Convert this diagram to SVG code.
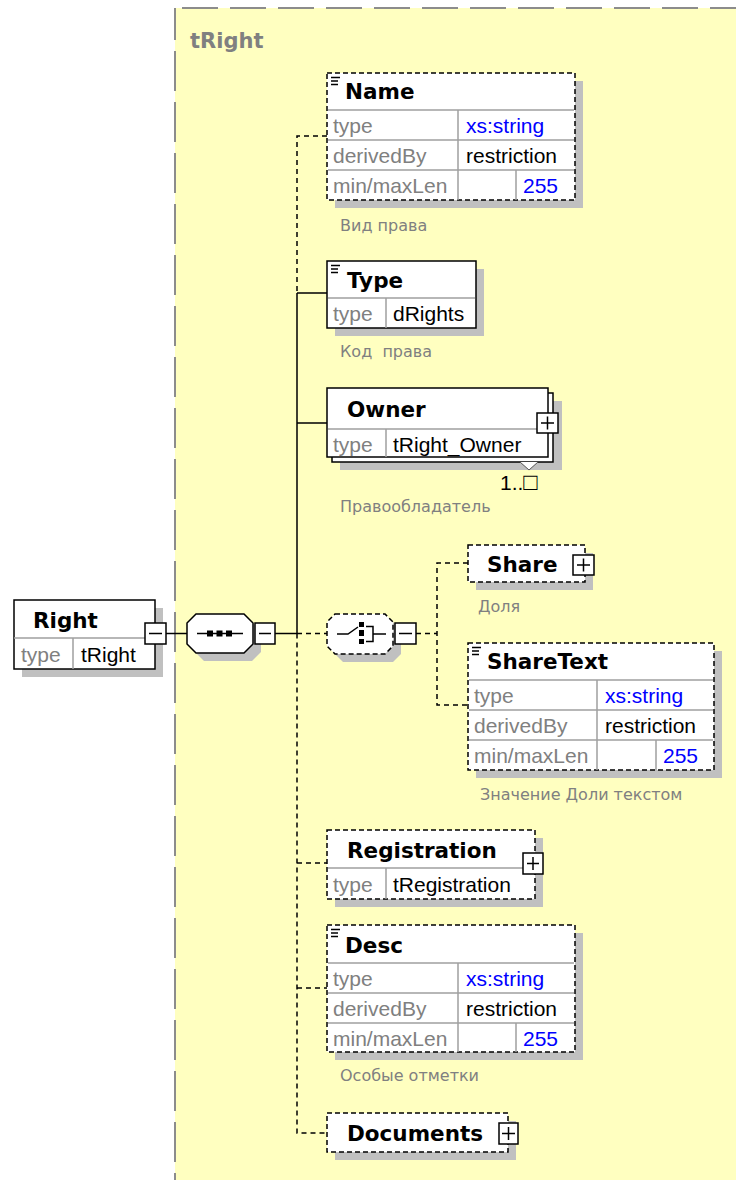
<svg xmlns="http://www.w3.org/2000/svg" width="736" height="1180" viewBox="0 0 736 1180">
<defs>
<style>
.bg{fill:#FFFFC0}
.border{stroke:#8c8c8c;stroke-width:2;fill:none}
.box{fill:#fff;stroke:#000;stroke-width:1.5}
.dash{stroke-dasharray:5 3}
.shadow{fill:#c0c0c0}
.grid{stroke:#a0a0a0;stroke-width:1.5;fill:none}
.title{font-family:"DejaVu Sans",Verdana,sans-serif;font-weight:bold;font-size:21.5px;fill:#000}
.zt{font-family:"DejaVu Sans",Verdana,sans-serif;font-weight:bold;font-size:21px;fill:#808080}
.lbl{font-family:"Liberation Sans",Arial,sans-serif;font-size:21px;fill:#808080}
.val{font-family:"Liberation Sans",Arial,sans-serif;font-size:21px;fill:#000}
.blue{fill:#0000ff}
.desc{font-family:"DejaVu Sans",Verdana,sans-serif;font-size:16px;fill:#808080}
.conn{stroke:#000;stroke-width:1.5;fill:none}
.cd{stroke-dasharray:5 4}
.btn{fill:#fff;stroke:#000;stroke-width:1.5}
.sym{stroke:#000;stroke-width:1.5;fill:none}
.icon{stroke:#000;stroke-width:1.5;fill:none}
</style>
</defs>

<g id="complexType-area">
<rect class="bg" x="175" y="8" width="561" height="1172"/>
<line class="border" x1="182" y1="8" x2="736" y2="8" stroke-dasharray="36 12"/>
<line class="border" x1="175" y1="8" x2="175" y2="1180" stroke-dasharray="40 11" stroke-dashoffset="8"/>
<text class="zt" x="190" y="48">tRight</text>
</g>

<g id="connectors">
<path class="conn" d="M166 633.5H187"/>
<path class="conn" d="M275 633.5H297"/>
<path class="conn" d="M297 293V633.5M297 293H327M297 423H327"/>
<path class="conn cd" d="M327 136H297V293"/>
<path class="conn cd" d="M297 633.5V1133H327M297 863H327M297 988H327M297 633.5H327"/>
<path class="conn cd" d="M416 633.5H437M468 563H437V705H468"/>
</g>

<g id="node-Right">
<rect class="shadow" x="22" y="608" width="141" height="69"/>
<rect class="box" x="14" y="600" width="141" height="69"/>
<path class="grid" d="M14 638H155M73 638V669"/>
<text class="title" x="33" y="628">Right</text>
<text class="lbl" x="21" y="662">type</text>
<text class="val" x="81" y="662">tRight</text>
<rect class="btn" x="145" y="623" width="21" height="21"/>
<path class="sym" d="M149 633.5H162"/>
</g>

<g id="node-sequence">
<polygon class="shadow" points="204,622 252,622 261,631 261,652 252,661 204,661 195,652 195,631"/>
<polygon class="box" points="196,614 244,614 253,623 253,644 244,653 196,653 187,644 187,623"/>
<path class="sym" d="M197 633.5H243"/>
<rect x="207" y="630.5" width="6" height="6" fill="#000"/>
<rect x="216.5" y="630.5" width="6" height="6" fill="#000"/>
<rect x="226" y="630.5" width="6" height="6" fill="#000"/>
<rect class="btn" x="255" y="623" width="20" height="21"/>
<path class="sym" d="M259 633.5H271"/>
</g>

<g id="node-Name">
<rect class="shadow" x="335" y="81" width="248" height="127"/>
<rect class="box dash" x="327" y="73" width="248" height="127"/>
<path class="grid" d="M328 110H574M328 140H574M328 170H574M458 110V200M516 170V200"/>
<path class="icon" d="M331 77.5H340M331 81H338M331 84.5H338"/>
<text class="title" x="345" y="99">Name</text>
<text class="lbl" x="333" y="133">type</text>
<text class="val blue" x="466" y="133">xs:string</text>
<text class="lbl" x="333" y="163">derivedBy</text>
<text class="val" x="466" y="163">restriction</text>
<text class="lbl" x="333" y="193">min/maxLen</text>
<text class="val blue" x="558" y="193" text-anchor="end">255</text>
<text class="desc" x="340" y="231">Вид права</text>
</g>

<g id="node-Type">
<rect class="shadow" x="335" y="269" width="149" height="67"/>
<rect class="box" x="327" y="261" width="149" height="67"/>
<path class="grid" d="M328 298H475M386 298V328"/>
<path class="icon" d="M331 265.5H340M331 269H338M331 272.5H338"/>
<text class="title" x="347" y="288">Type</text>
<text class="lbl" x="333" y="321">type</text>
<text class="val" x="393" y="321">dRights</text>
<text class="desc" x="340" y="357" xml:space="preserve">Код  права</text>
</g>

<g id="node-Owner">
<rect class="shadow" x="340" y="401" width="222" height="69"/>
<rect class="box" x="332" y="393" width="221" height="69"/>
<rect class="box" x="327" y="388" width="221" height="69"/>
<path class="grid" d="M328 429H547M386 429V457"/>
<text class="title" x="347" y="417">Owner</text>
<text class="lbl" x="333" y="452">type</text>
<text class="val" x="393" y="452">tRight_Owner</text>
<rect class="btn" x="537" y="413" width="21" height="20"/>
<path class="sym" d="M541 423H554M547.5 416.5V429.5"/>
<polyline points="520,462 529,470 538,462" fill="#fff" stroke="#555" stroke-width="1"/>
<text class="val" x="500" y="490">1..<tspan font-size="24px">□</tspan></text>
<text class="desc" x="340" y="512">Правообладатель</text>
</g>

<g id="node-choice">
<polygon class="shadow" points="343,622 393,622 401,630 401,654 393,662 343,662 335,654 335,630"/>
<polygon class="box dash" points="335,614 385,614 393,622 393,646 385,654 335,654 327,646 327,622"/>
<path class="sym" d="M337 634H348L358 627"/>
<rect x="359" y="622" width="5" height="5" fill="#000"/>
<rect x="359" y="630" width="5" height="6" fill="#000"/>
<rect x="359" y="639" width="5" height="5" fill="#000"/>
<path class="sym" d="M366 626.5H373V641.5H366M373 634H386"/>
<rect class="btn" x="395" y="623" width="21" height="21"/>
<path class="sym" d="M399 633.5H412"/>
</g>

<g id="node-Share">
<rect class="shadow" x="476" y="553" width="117" height="37"/>
<rect class="box dash" x="468" y="545" width="117" height="37"/>
<text class="title" x="487" y="572">Share</text>
<rect class="btn" x="573" y="555" width="21" height="20"/>
<path class="sym" d="M577 565H590M583.5 558.5V571.5"/>
<text class="desc" x="478" y="612">Доля</text>
</g>

<g id="node-ShareText">
<rect class="shadow" x="476" y="651" width="246" height="127"/>
<rect class="box dash" x="468" y="643" width="246" height="127"/>
<path class="grid" d="M469 680H713M469 710H713M469 740H713M597 680V770M656 740V770"/>
<path class="icon" d="M472 647.5H481M472 651H479M472 654.5H479"/>
<text class="title" x="487" y="669">ShareText</text>
<text class="lbl" x="474" y="703">type</text>
<text class="val blue" x="605" y="703">xs:string</text>
<text class="lbl" x="474" y="733">derivedBy</text>
<text class="val" x="605" y="733">restriction</text>
<text class="lbl" x="474" y="763">min/maxLen</text>
<text class="val blue" x="698" y="763" text-anchor="end">255</text>
<text class="desc" x="480" y="800">Значение Доли текстом</text>
</g>

<g id="node-Registration">
<rect class="shadow" x="335" y="838" width="208" height="69"/>
<rect class="box dash" x="327" y="830" width="208" height="69"/>
<path class="grid" d="M328 868H534M386 868V899"/>
<text class="title" x="347" y="858">Registration</text>
<text class="lbl" x="333" y="892">type</text>
<text class="val" x="393" y="892">tRegistration</text>
<rect class="btn" x="523" y="853" width="20" height="21"/>
<path class="sym" d="M527 863.5H539M533 857V870"/>
</g>

<g id="node-Desc">
<rect class="shadow" x="335" y="933" width="248" height="127"/>
<rect class="box dash" x="327" y="925" width="248" height="127"/>
<path class="grid" d="M328 963H574M328 993H574M328 1023H574M458 963V1052M516 1023V1052"/>
<path class="icon" d="M331 929.5H340M331 933H338M331 936.5H338"/>
<text class="title" x="345" y="953">Desc</text>
<text class="lbl" x="333" y="986">type</text>
<text class="val blue" x="466" y="986">xs:string</text>
<text class="lbl" x="333" y="1016">derivedBy</text>
<text class="val" x="466" y="1016">restriction</text>
<text class="lbl" x="333" y="1046">min/maxLen</text>
<text class="val blue" x="558" y="1046" text-anchor="end">255</text>
<text class="desc" x="340" y="1081">Особые отметки</text>
</g>

<g id="node-Documents">
<rect class="shadow" x="335" y="1121" width="181" height="39"/>
<rect class="box dash" x="327" y="1113" width="181" height="39"/>
<text class="title" x="347" y="1141">Documents</text>
<rect class="btn" x="499" y="1123" width="19" height="21"/>
<path class="sym" d="M502 1133.5H515M508.5 1127V1140"/>
</g>
</svg>
